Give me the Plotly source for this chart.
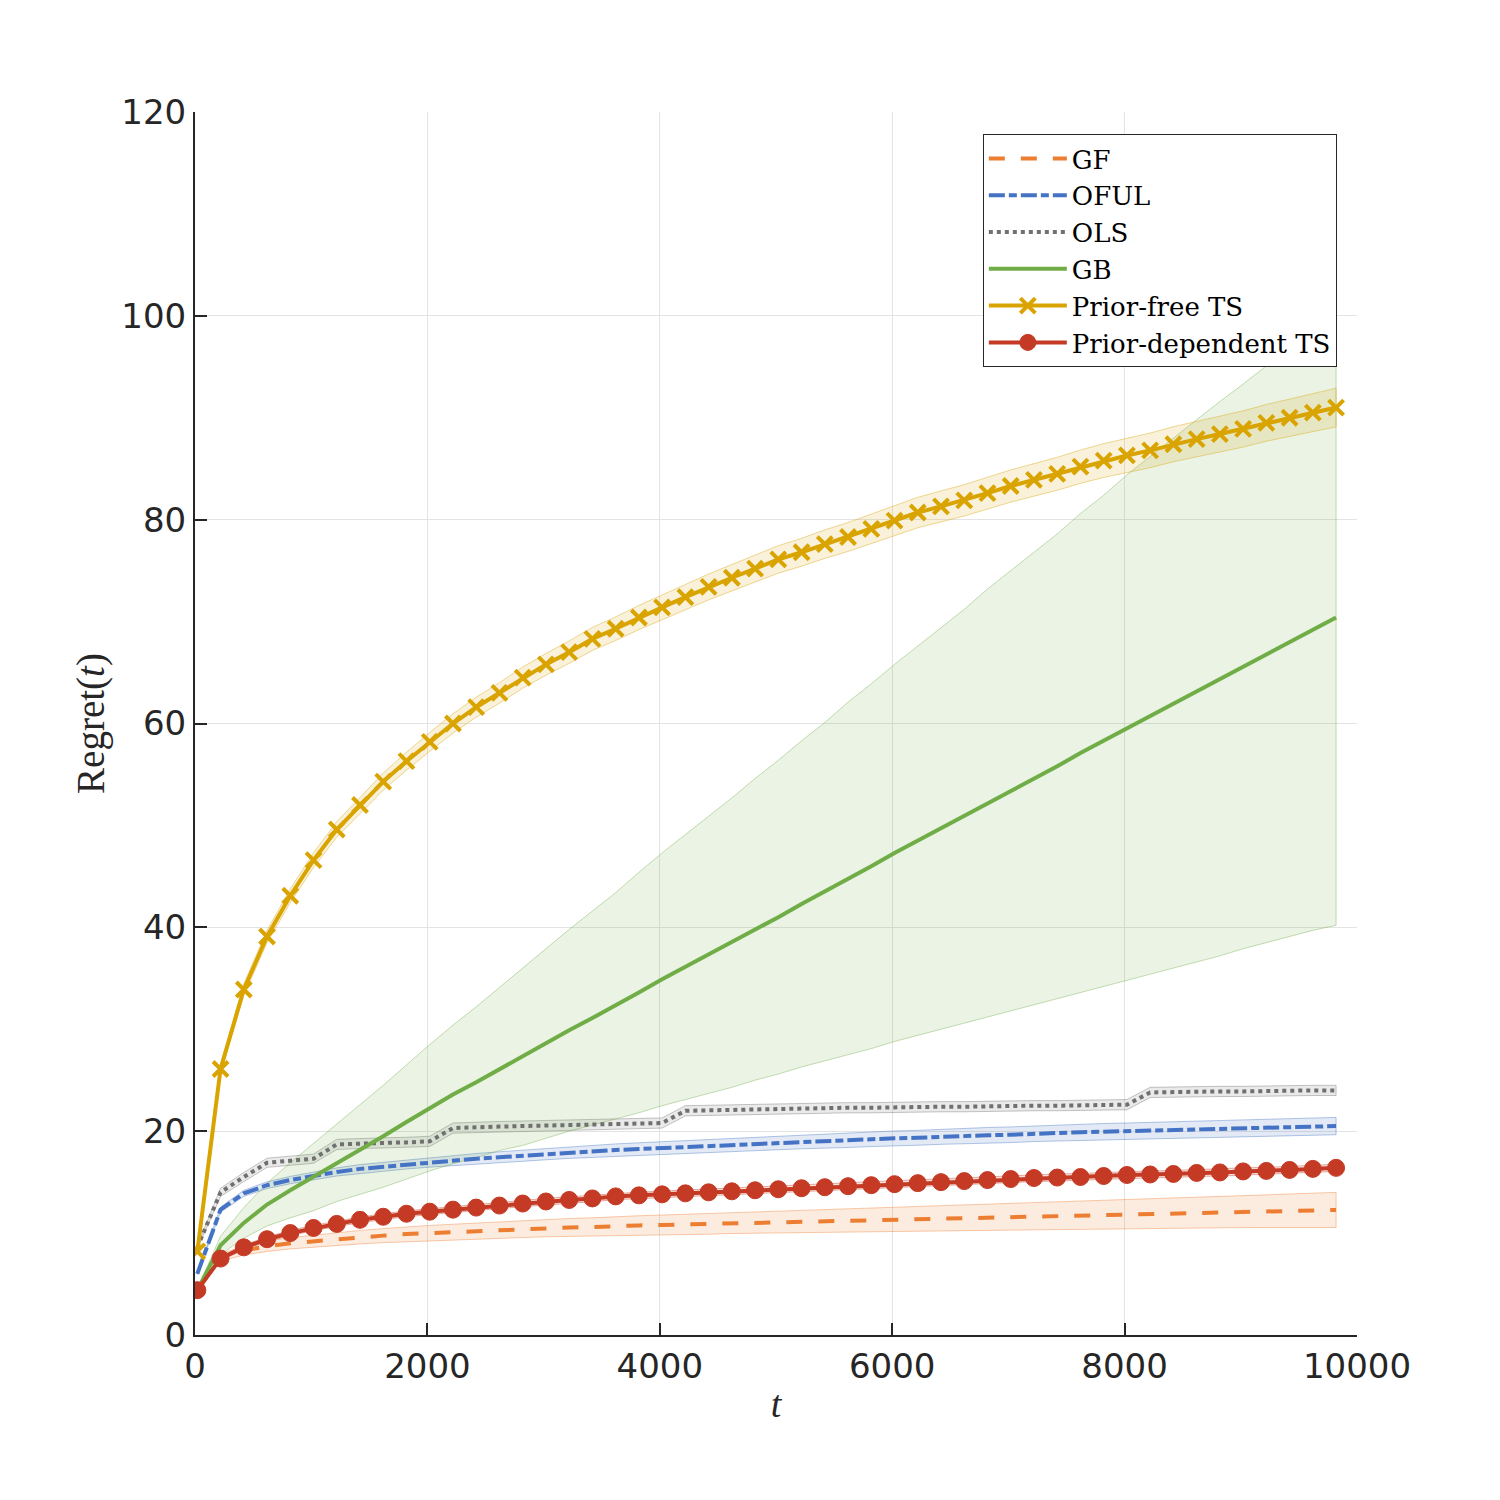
import plotly.graph_objects as go

t = [20, 220, 420, 620, 820, 1020, 1220, 1420, 1620, 1820,
     2020, 2220, 2420, 2620, 2820, 3020, 3220, 3420, 3620, 3820,
     4020, 4220, 4420, 4620, 4820, 5020, 5220, 5420, 5620, 5820,
     6020, 6220, 6420, 6620, 6820, 7020, 7220, 7420, 7620, 7820,
     8020, 8220, 8420, 8620, 8820, 9020, 9220, 9420, 9620, 9820]

x_tickvals = [0, 2000, 4000, 6000, 8000, 10000]
x_ticktext = ["0", "2000", "4000", "6000", "8000", "10000"]
y_tickvals = [0, 20, 40, 60, 80, 100, 120]

gf_mean = [4.4, 7.6, 8.3, 8.7, 9.0, 9.2, 9.4, 9.6, 9.75, 9.9,
           10.0, 10.1, 10.2, 10.3, 10.4, 10.5, 10.55, 10.6, 10.7, 10.75,
           10.8, 10.85, 10.9, 11.0, 11.05, 11.1, 11.15, 11.2, 11.25, 11.3,
           11.35, 11.4, 11.45, 11.5, 11.55, 11.6, 11.65, 11.7, 11.75, 11.8,
           11.85, 11.9, 11.95, 12.0, 12.05, 12.1, 12.15, 12.2, 12.25, 12.27]
gf_hw = [0.05, 0.35, 0.45, 0.5, 0.55, 0.6, 0.63, 0.66, 0.69, 0.72,
         0.75, 0.77, 0.79, 0.82, 0.84, 0.86, 0.88, 0.9, 0.92, 0.95,
         0.97, 0.99, 1.01, 1.04, 1.06, 1.08, 1.1, 1.12, 1.15, 1.17,
         1.19, 1.21, 1.24, 1.26, 1.28, 1.31, 1.33, 1.35, 1.38, 1.4,
         1.43, 1.45, 1.48, 1.5, 1.53, 1.56, 1.6, 1.64, 1.68, 1.72]

oful_mean = [6.0, 12.3, 13.9, 14.7, 15.2, 15.6, 16.0, 16.3, 16.5, 16.75,
             16.95, 17.15, 17.3, 17.45, 17.6, 17.75, 17.9, 18.0, 18.15, 18.25,
             18.35, 18.45, 18.55, 18.65, 18.75, 18.85, 18.95, 19.05, 19.1, 19.2,
             19.3, 19.35, 19.45, 19.5, 19.6, 19.65, 19.75, 19.8, 19.9, 19.95,
             20.0, 20.05, 20.15, 20.2, 20.25, 20.3, 20.35, 20.4, 20.45, 20.5]
oful_hw = [0.05, 0.25, 0.3, 0.33, 0.36, 0.38, 0.4, 0.42, 0.44, 0.46,
           0.48, 0.5, 0.51, 0.53, 0.54, 0.56, 0.57, 0.58, 0.6, 0.61,
           0.62, 0.63, 0.64, 0.65, 0.66, 0.67, 0.68, 0.69, 0.7, 0.71,
           0.72, 0.73, 0.74, 0.75, 0.76, 0.77, 0.77, 0.78, 0.79, 0.8,
           0.8, 0.81, 0.82, 0.82, 0.83, 0.83, 0.84, 0.84, 0.85, 0.85]

ols_mean = [8.6, 14.0, 15.5, 16.9, 17.1, 17.3, 18.7, 18.8, 18.85, 18.9,
            19.0, 20.3, 20.4, 20.45, 20.5, 20.55, 20.6, 20.65, 20.7, 20.75,
            20.8, 22.0, 22.05, 22.1, 22.15, 22.2, 22.2, 22.25, 22.3, 22.3,
            22.35, 22.35, 22.4, 22.4, 22.45, 22.45, 22.5, 22.5, 22.55, 22.55,
            22.6, 23.8, 23.85, 23.85, 23.9, 23.9, 23.95, 23.95, 24.0, 24.0]
ols_hw = [0.15, 0.4, 0.45, 0.45, 0.45, 0.45, 0.5, 0.5, 0.5, 0.5,
          0.5, 0.5, 0.5, 0.5, 0.5, 0.5, 0.5, 0.5, 0.5, 0.5,
          0.5, 0.5, 0.5, 0.5, 0.5, 0.5, 0.5, 0.5, 0.5, 0.5,
          0.5, 0.5, 0.5, 0.5, 0.5, 0.5, 0.5, 0.5, 0.5, 0.5,
          0.5, 0.5, 0.5, 0.5, 0.5, 0.5, 0.5, 0.5, 0.5, 0.5]

gb_mean = [4.4, 8.8, 11.0, 12.8, 14.2, 15.5, 16.9, 18.2, 19.5, 20.9,
           22.3, 23.6, 24.8, 26.1, 27.3, 28.6, 29.9, 31.1, 32.3, 33.6,
           34.9, 36.1, 37.3, 38.5, 39.8, 41.0, 42.3, 43.5, 44.8, 46.0,
           47.3, 48.5, 49.7, 50.9, 52.2, 53.4, 54.6, 55.8, 57.1, 58.3,
           59.6, 60.8, 62.0, 63.2, 64.4, 65.6, 66.8, 68.0, 69.2, 70.4]
gb_hw = [0.1, 0.9, 1.5, 2.1, 2.7, 3.3, 3.8, 4.4, 5.0, 5.6,
         6.2, 6.8, 7.4, 8.0, 8.7, 9.3, 9.9, 10.5, 11.1, 11.8,
         12.4, 13.0, 13.6, 14.2, 14.8, 15.4, 16.0, 16.6, 17.3, 17.9,
         18.5, 19.1, 19.7, 20.3, 21.0, 21.6, 22.2, 22.8, 23.5, 24.1,
         24.8, 25.4, 26.0, 26.6, 27.2, 27.7, 28.3, 28.9, 29.5, 30.2]

pf_mean = [8.2, 26.1, 33.9, 39.1, 43.1, 46.6, 49.6, 52.0, 54.3, 56.3,
           58.2, 60.0, 61.6, 63.0, 64.5, 65.8, 67.0, 68.3, 69.3, 70.4,
           71.4, 72.4, 73.4, 74.3, 75.2, 76.1, 76.8, 77.6, 78.3, 79.1,
           79.9, 80.7, 81.3, 81.9, 82.6, 83.3, 83.9, 84.5, 85.2, 85.8,
           86.3, 86.8, 87.4, 87.9, 88.4, 88.9, 89.5, 90.0, 90.5, 91.0]
pf_hw = [0.2, 0.45, 0.55, 0.62, 0.68, 0.72, 0.76, 0.8, 0.84, 0.88,
         0.92, 0.95, 0.98, 1.01, 1.04, 1.07, 1.1, 1.13, 1.16, 1.19,
         1.22, 1.25, 1.27, 1.3, 1.32, 1.35, 1.37, 1.4, 1.42, 1.45,
         1.47, 1.5, 1.52, 1.54, 1.56, 1.58, 1.6, 1.62, 1.64, 1.66,
         1.68, 1.7, 1.72, 1.74, 1.76, 1.78, 1.8, 1.83, 1.86, 1.9]

pd_mean = [4.4, 7.5, 8.6, 9.4, 10.0, 10.5, 10.9, 11.3, 11.6, 11.9,
           12.1, 12.3, 12.5, 12.7, 12.9, 13.1, 13.25, 13.4, 13.6, 13.7,
           13.8, 13.9, 14.0, 14.1, 14.2, 14.3, 14.4, 14.5, 14.6, 14.7,
           14.8, 14.9, 15.0, 15.1, 15.2, 15.3, 15.4, 15.45, 15.5, 15.6,
           15.7, 15.75, 15.8, 15.9, 15.95, 16.05, 16.1, 16.2, 16.3, 16.4]
pd_hw = [0.1, 0.2, 0.22, 0.24, 0.25, 0.26, 0.27, 0.28, 0.28, 0.29,
         0.29, 0.3, 0.3, 0.3, 0.31, 0.31, 0.31, 0.32, 0.32, 0.32,
         0.32, 0.33, 0.33, 0.33, 0.33, 0.33, 0.34, 0.34, 0.34, 0.34,
         0.34, 0.34, 0.35, 0.35, 0.35, 0.35, 0.35, 0.35, 0.35, 0.35,
         0.35, 0.35, 0.35, 0.35, 0.35, 0.35, 0.35, 0.35, 0.35, 0.35]

series = [
    # name, mean, hw, rgb, dash, marker
    ("GF", gf_mean, gf_hw, (237, 125, 49), "16px,16px", None),
    ("OFUL", oful_mean, oful_hw, (68, 114, 196), "16px,4px,8px,4px", None),
    ("OLS", ols_mean, ols_hw, (112, 112, 112), "4px,4px", None),
    ("GB", gb_mean, gb_hw, (112, 173, 71), "solid", None),
    ("Prior-free TS", pf_mean, pf_hw, (217, 163, 0), "solid", "x"),
    ("Prior-dependent TS", pd_mean, pd_hw, (196, 58, 36), "solid", "o"),
]

fig = go.Figure()

# shaded bands first
for name, m, hw, c, dash, mk in series:
    up = [a + b for a, b in zip(m, hw)]
    lo = [a - b for a, b in zip(m, hw)]
    rgb = "%d,%d,%d" % c
    fig.add_trace(go.Scatter(
        x=t + t[::-1], y=up + lo[::-1], fill="toself",
        fillcolor="rgba(%s,0.15)" % rgb,
        line=dict(color="rgba(%s,0.4)" % rgb, width=1),
        mode="lines", showlegend=False, hoverinfo="skip"))

for name, m, hw, c, dash, mk in series:
    col = "rgb(%d,%d,%d)" % c
    kw = dict(x=t, y=m, name=name, line=dict(color=col, width=4, dash=dash))
    if mk == "x":
        kw["mode"] = "lines+markers"
        kw["marker"] = dict(symbol="x-thin", size=15, color=col,
                            line=dict(color=col, width=4))
    elif mk == "o":
        kw["mode"] = "lines+markers"
        kw["marker"] = dict(symbol="circle", size=17, color=col,
                            line=dict(color=col, width=1))
    else:
        kw["mode"] = "lines"
    fig.add_trace(go.Scatter(**kw))

axis_common = dict(
    showline=True, linecolor="#262626", linewidth=2,
    ticks="inside", ticklen=12, tickwidth=2, tickcolor="#262626",
    showgrid=True, gridcolor="#e3e3e3", gridwidth=1,
    zeroline=False, mirror=False,
    tickfont=dict(family="DejaVu Sans", size=34, color="#262626"),
)

fig.update_layout(
    width=1500, height=1500, autosize=False,
    margin=dict(l=187, r=151, t=104, b=173),
    paper_bgcolor="white", plot_bgcolor="white",
    xaxis=dict(range=[0, 10000], tickvals=x_tickvals, ticktext=x_ticktext,
               title=dict(text="<i>t</i>", standoff=6,
                          font=dict(family="Liberation Serif", size=38, color="#262626")),
               **axis_common),
    yaxis=dict(range=[0, 120], tickvals=y_tickvals,
               title=dict(text="Regret(<i>t</i>)", standoff=5,
                          font=dict(family="Liberation Serif", size=39, color="#262626")),
               **axis_common),
    legend=dict(x=0.678, y=0.982, xanchor="left", yanchor="top",
                bgcolor="white", bordercolor="#262626", borderwidth=1,
                font=dict(family="DejaVu Serif", size=26, color="#000000"),
                itemwidth=78, tracegroupgap=0),
    showlegend=True,
)

fig.write_html("out.html")
